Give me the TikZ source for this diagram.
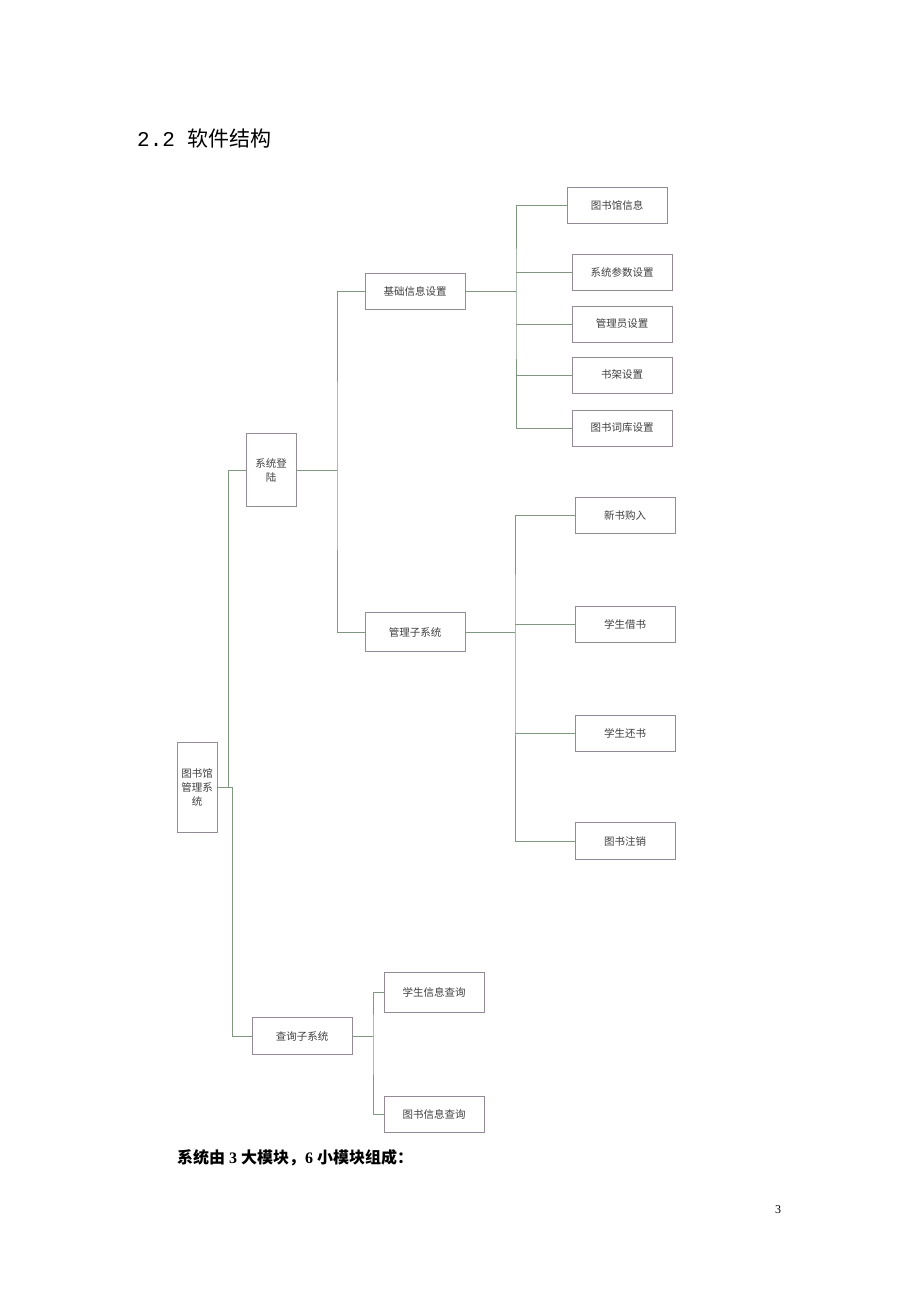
\documentclass[tikz,border=0pt]{standalone}
\usepackage{fontspec}
\setmainfont{Liberation Serif}
\newfontfamily\cjk{Noto Sans CJK SC}
\newfontfamily\monofnt{Liberation Mono}
\definecolor{linec}{RGB}{128,152,128}
\definecolor{boxc}{RGB}{148,138,152}
\begin{document}
\begin{tikzpicture}[x=1pt,y=-1pt,
  box/.style={draw=boxc,line width=0.7pt,minimum width=100pt,minimum height=36pt,inner sep=0pt,font=\cjk\fontsize{10.5}{13}\selectfont,text=black!75},
  tall/.style={draw=boxc,line width=0.7pt,inner sep=0pt,font=\cjk\fontsize{10.5}{14}\selectfont,text=black!75,align=center},
  conn/.style={draw=linec,line width=0.7pt}]
\useasboundingbox (0,0) rectangle (920,1302);
\fill[white] (0,0) rectangle (920,1302);

\node[anchor=base west,inner sep=0pt] (title) at (137,146) {\fontsize{21}{24}\selectfont\monofnt 2.2 {\cjk 软件结构}};

% boxes
\node[tall,minimum width=40pt,minimum height=90pt,text width=34pt] (root) at (197,787) {图书馆\\管理系\\统};
\node[tall,minimum width=50pt,minimum height=73pt,text width=34pt] (login) at (271,470) {系统登\\陆};
\node[box] (basic) at (415,291) {基础信息设置};
\node[box,minimum height=39pt] (manage) at (415,632) {管理子系统};
\node[box,minimum height=37pt] (query) at (302,1036) {查询子系统};

\node[box] (b1) at (617,205) {图书馆信息};
\node[box] (b2) at (622,272) {系统参数设置};
\node[box] (b3) at (622,324) {管理员设置};
\node[box] (b4) at (622,375) {书架设置};
\node[box] (b5) at (622,428) {图书词库设置};

\node[box] (m1) at (625,515) {新书购入};
\node[box] (m2) at (625,624) {学生借书};
\node[box] (m3) at (625,733) {学生还书};
\node[box,minimum height=37pt] (m4) at (625,841) {图书注销};

\node[box,minimum height=40pt] (q1) at (434,992) {学生信息查询};
\node[box] (q2) at (434,1114) {图书信息查询};

% connectors
\coordinate (r1) at (228,787);
\coordinate (r2) at (232,787);
\draw[conn] (root.east) -- (r1) |- (login.west);
\draw[conn] (root.east) -- (r2) |- (query.west);

\coordinate (l1) at (337,470);
\draw[conn] (login.east) -- (l1);
\draw[conn] (basic.west) -| (l1) |- (manage.west);

\coordinate (bj) at (516,291);
\draw[conn] (basic.east) -- (bj);
\draw[conn] (b1.west) -| (bj) |- (b5.west);
\draw[conn] (bj |- b2.west) -- (b2.west);
\draw[conn] (bj |- b3.west) -- (b3.west);
\draw[conn] (bj |- b4.west) -- (b4.west);

\coordinate (mj) at (515,632);
\draw[conn] (manage.east) -- (mj);
\draw[conn] (m1.west) -| (mj) |- (m4.west);
\draw[conn] (mj |- m2.west) -- (m2.west);
\draw[conn] (mj |- m3.west) -- (m3.west);

\coordinate (qj) at (373,1036);
\draw[conn] (query.east) -- (qj);
\draw[conn] (q1.west) -| (qj) |- (q2.west);

\node[anchor=base west,inner sep=0pt] (summary) at (177,1163) {\fontsize{16}{19}\selectfont\bfseries{\cjk\bfseries 系统由} 3 {\cjk\bfseries 大模块，}6 {\cjk\bfseries 小模块组成：}};

\node[anchor=base,inner sep=0pt] (page) at (778,1213) {\fontsize{12}{14}\selectfont 3};
\end{tikzpicture}
\end{document}
